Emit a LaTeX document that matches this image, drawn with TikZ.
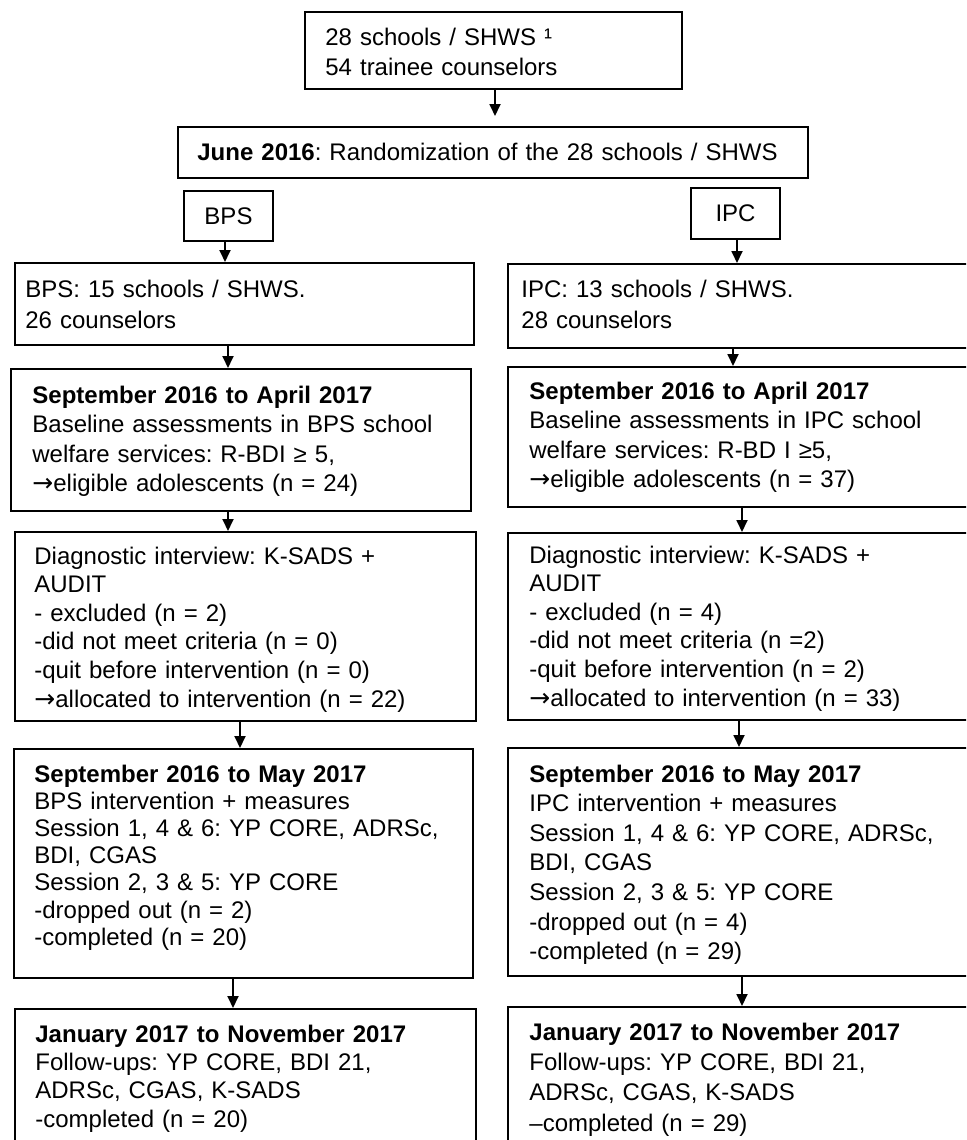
\documentclass[tikz,border=0pt]{standalone}
\usepackage{fontspec}
\setmainfont{Liberation Sans}
\newfontfamily\arrowfont{DejaVu Sans}
\newcommand{\ra}{{\arrowfont\fontsize{12.5}{12}\selectfont →}}
\frenchspacing
\usetikzlibrary{shapes,arrows.meta,fit}
\tikzstyle{arrow} = [-{Triangle[length=6pt,width=5.5pt]}, line width=0.9pt]
\tikzstyle{block} = [rectangle, draw, line width=1pt, inner sep=0pt]
\tikzset{txt/.style={anchor=base west, inner sep=0pt, text width=215pt, align=left,
  font=\fontsize{12}{#1}\selectfont}}

\begin{document}
\begin{tikzpicture}[x=0.5pt, y=-0.5pt, font=\fontsize{12}{14}\selectfont]
\useasboundingbox (0,0) rectangle (966,1140);
\clip (0,0) rectangle (966,1140);

% Place boxes
\node (start) [block, fit={(305,12) (682,89)}] {};
\node (random) [block, fit={(178,127) (808,178)}] {};
\node (bps) [block, minimum width=44.5pt, minimum height=25pt] at (228.5,216) {BPS};
\node (ipc) [block, minimum width=44.5pt, minimum height=25.5pt] at (735.5,213.5) {IPC};
\node (bpsA) [block, fit={(15,263) (474,345)}] {};
\node (ipcA) [block, fit={(508,264) (980,348)}] {};
\node (bpsB) [block, fit={(11,369) (471,511)}] {};
\node (ipcB) [block, fit={(508,367) (980,507)}] {};
\node (bpsC) [block, fit={(15,532) (476,721)}] {};
\node (ipcC) [block, fit={(508,533) (980,720)}] {};
\node (bpsD) [block, fit={(14,749) (473,978)}] {};
\node (ipcD) [block, fit={(508,748) (980,976)}] {};
\node (bpsE) [block, fit={(15,1009) (476,1160)}] {};
\node (ipcE) [block, fit={(508,1007) (980,1160)}] {};

% Place texts
\node (startT) [txt=15] at (325,45) {28 schools / SHWS ¹\\54 trainee counselors};
\node (randomT) [txt=14, text width=300pt] at (197,160) {\textbf{June 2016}: Randomization of the 28 schools / SHWS};

\node (bpsAT) [txt=15.5] at (25,297) {BPS: 15 schools / SHWS.\\26 counselors};
\node (ipcAT) [txt=15.5] at (521,297) {IPC: 13 schools / SHWS.\\28 counselors};

\node (bpsBT) [txt=14.8] at (32,403) {\textbf{September 2016 to April 2017}\\Baseline assessments in BPS school\\welfare services: R-BDI ≥ 5,\\\ra eligible adolescents (n = 24)};
\node (ipcBT) [txt=14.8] at (529,399) {\textbf{September 2016 to April 2017}\\Baseline assessments in IPC school\\welfare services: R-BD I ≥5,\\\ra eligible adolescents (n = 37)};

\node (bpsCT) [txt=14.3] at (34,564) {Diagnostic interview: K-SADS +\\AUDIT\\- excluded (n = 2)\\-did not meet criteria (n = 0)\\-quit before intervention (n = 0)\\\ra allocated to intervention (n = 22)};
\node (ipcCT) [txt=14.3] at (529,563) {Diagnostic interview: K-SADS +\\AUDIT\\- excluded (n = 4)\\-did not meet criteria (n =2)\\-quit before intervention (n = 2)\\\ra allocated to intervention (n = 33)};

\node (bpsDT) [txt=13.6] at (34,782) {\textbf{September 2016 to May 2017}\\BPS intervention + measures\\Session 1, 4 \& 6: YP CORE, ADRSc,\\BDI, CGAS\\Session 2, 3 \& 5: YP CORE\\-dropped out (n = 2)\\-completed (n = 20)};
\node (ipcDT) [txt=14.8] at (529,782) {\textbf{September 2016 to May 2017}\\IPC intervention + measures\\Session 1, 4 \& 6: YP CORE, ADRSc,\\BDI, CGAS\\Session 2, 3 \& 5: YP CORE\\-dropped out (n = 4)\\-completed (n = 29)};

\node (bpsET) [txt=14.2] at (35,1042) {\textbf{January 2017 to November 2017}\\Follow-ups: YP CORE, BDI 21,\\ADRSc, CGAS, K-SADS\\-completed (n = 20)};
\node (ipcET) [txt=15.2] at (529,1040) {\textbf{January 2017 to November 2017}\\Follow-ups: YP CORE, BDI 21,\\ADRSc, CGAS, K-SADS\\–completed (n = 29)};

% Draw arrows
\draw [arrow, shorten >=5pt] (start.south -| 495,0) -- (random.north -| 495,0);
\draw [arrow] (bps.south -| 225,0) -- (bpsA.north -| 225,0);
\draw [arrow] (ipc.south -| 737,0) -- (ipcA.north -| 737,0);
\draw [arrow] (bpsA.south -| 228,0) -- (bpsB.north -| 228,0);
\draw [arrow] (ipcA.south -| 733,0) -- (ipcB.north -| 733,0);
\draw [arrow] (bpsB.south -| 228,0) -- (bpsC.north -| 228,0);
\draw [arrow] (ipcB.south -| 742,0) -- (ipcC.north -| 742,0);
\draw [arrow] (bpsC.south -| 240,0) -- (bpsD.north -| 240,0);
\draw [arrow] (ipcC.south -| 739,0) -- (ipcD.north -| 739,0);
\draw [arrow] (bpsD.south -| 233,0) -- (bpsE.north -| 233,0);
\draw [arrow] (ipcD.south -| 742,0) -- (ipcE.north -| 742,0);

\end{tikzpicture}
\end{document}
